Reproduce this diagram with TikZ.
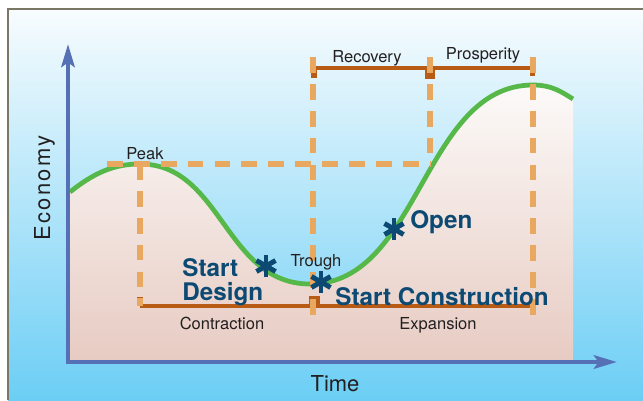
\documentclass[tikz,border=0pt]{standalone}
\usepackage{fontspec}
\setmainfont{TeX Gyre Heros}
\usetikzlibrary{arrows.meta,calc}
\definecolor{skytop}{HTML}{F8FCFE}
\definecolor{skybottom}{HTML}{6CCEF5}
\definecolor{areatop}{HTML}{FCFAF9}
\definecolor{areabottom}{HTML}{E7CBC2}
\definecolor{axisblue}{HTML}{5670B6}
\definecolor{econgreen}{HTML}{55B848}
\definecolor{dashorange}{HTML}{E9A860}
\definecolor{barbrown}{HTML}{B85B14}
\definecolor{eventblue}{HTML}{0C4A73}
\definecolor{framegray}{HTML}{7B7765}
\definecolor{labelgray}{HTML}{231F20}
\newcommand{\econpath}{.. controls (95,228) and (115,236) .. (140,236)
  .. controls (222,236) and (225,116) .. (310,116)
  .. controls (420,116) and (423,315) .. (533,315)
  .. controls (553,315) and (563,307) .. (573,301)}

\begin{document}
\begin{tikzpicture}[x=0.02cm, y=0.02cm, >={Stealth[length=13pt,width=7.5pt,inset=2.5pt]},
  axis/.style={draw=axisblue, line width=2.8pt},
  curve/.style={draw=econgreen, line width=2.7pt},
  guide/.style={draw=dashorange, line width=3pt, dash pattern=on 9pt off 6.3pt},
  phase/.style={draw=barbrown, line width=2.8pt},
  small/.style={font=\fontsize{9.4}{11}\selectfont, text=labelgray, inner sep=0pt},
  axislbl/.style={font=\fontsize{12.5}{14}\selectfont, text=labelgray, inner sep=0pt},
  event/.style={font=\fontsize{13.8}{13.6}\selectfont\bfseries, text=eventblue, inner sep=0pt},
  starline/.style={draw=eventblue, line width=2.8pt}]

\useasboundingbox (0,0) rectangle (643,400);
\shade[top color=skytop, bottom color=skybottom] (8,0) rectangle (643,391);
\draw[framegray, line width=1.2pt] (8,0) -- (8,391) -- (643,391);

\coordinate (ORIGIN) at (68,38);
\coordinate (YTOP) at (68,356);
\coordinate (XEND) at (617,38);
\coordinate (PEAK) at (140,236);
\coordinate (PEAKL) at (107,236);
\coordinate (TURN) at (430,236);
\coordinate (TROUGHUP) at (313,343);
\coordinate (TROUGHDN) at (313,84);
\coordinate (TURNUP) at (430,343);
\coordinate (TOPUP) at (533,343);
\coordinate (TOPDN) at (533,78);
\coordinate (CSTART) at (140,94);
\coordinate (RSTART) at (313,332);
\coordinate (PEND) at (533,332);
\coordinate (EEND) at (535,94);
\coordinate (DESIGNPT) at (266,134);
\coordinate (BUILDPT) at (321,118);
\coordinate (OPENPT) at (394,171);

\shade[top color=areatop, bottom color=areabottom] (68,38) -- (68,206) -- (70,208) \econpath -- (573,38) -- cycle;
\draw[curve] (70,208) \econpath;

\draw[phase] (RSTART) -- (PEND);
\fill[barbrown] (311,322) rectangle (317,332);
\fill[barbrown] (425,321) rectangle (435,332);
\fill[barbrown] (530,324) rectangle (535,332);
\draw[phase] (CSTART) -- (EEND);
\fill[barbrown] (137,94) rectangle (143,103);
\fill[barbrown] (309,94) rectangle (320,104);

\draw[guide] (PEAKL) -- (TURN);
\draw[guide] (PEAK) -- (CSTART);
\draw[guide] (TROUGHUP) -- (TROUGHDN);
\draw[guide] (TURNUP) -- (TURN);
\draw[guide] (TOPUP) -- (TOPDN);

\draw[axis, <->] (YTOP) -- (ORIGIN) -- (XEND);

\foreach \s in {DESIGNPT, BUILDPT, OPENPT}
  \foreach \a in {90, 30, 150}
    \draw[starline] ($(\s)+(\a:11)$) -- ($(\s)+(\a+180:11)$);

\node[small, anchor=base] (PEAKLBL) at (145,241) {Peak};
\node[small, anchor=base] (RECOV) at (367,338) {Recovery};
\node[small, anchor=base] (PROSP) at (483,341) {Prosperity};
\node[small, anchor=base] (TROUGHLBL) at (316,134) {Trough};
\node[small, anchor=base] (CONTR) at (222,71) {Contraction};
\node[small, anchor=base] (EXPAN) at (438,71) {Expansion};
\node[axislbl, anchor=base] (TIME) at (335,9) {Time};
\node[axislbl, anchor=base, rotate=90] (ECON) at (50,212) {\addfontfeatures{LetterSpace=10}Economy};

\node[event, anchor=north west, align=left] (DESIGN) at (182,142) {Start\\Design};
\node[event, anchor=base west] (BUILD) at (335,95) {Start Construction};
\node[event, anchor=base west] (OPENLBL) at (410,172) {Open};
\end{tikzpicture}
\end{document}
